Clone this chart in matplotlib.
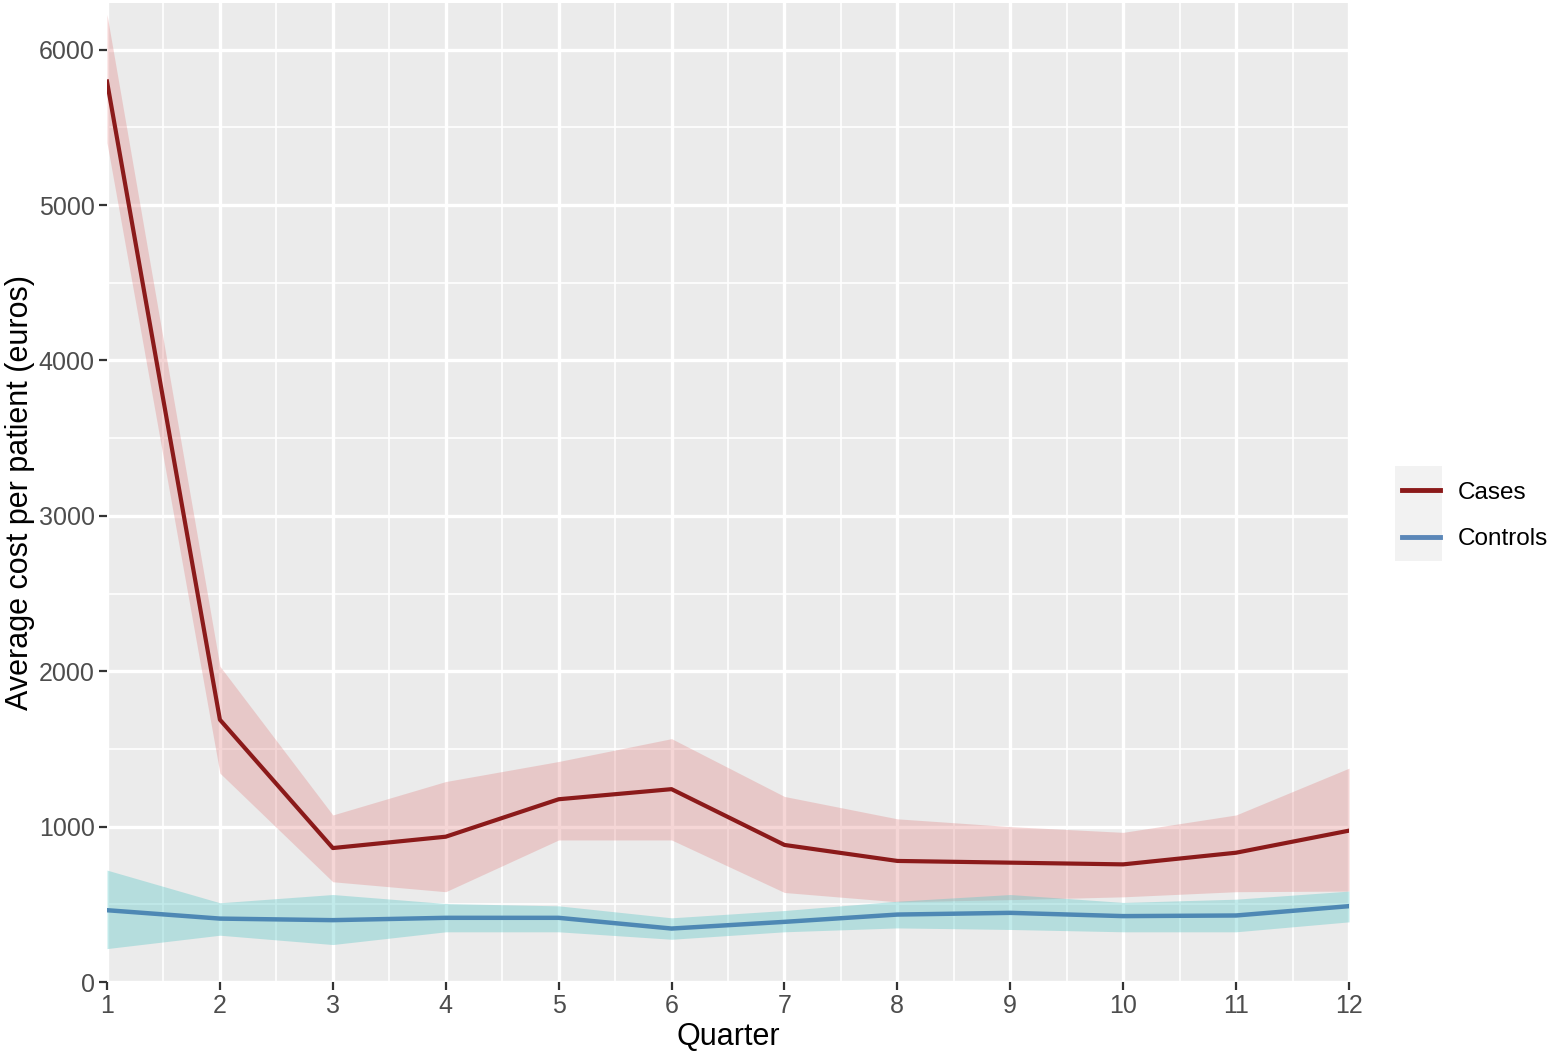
import numpy as np
import matplotlib.pyplot as plt
from matplotlib.lines import Line2D
from matplotlib.patches import Rectangle

plt.rcParams['font.family'] = ['Liberation Sans', 'DejaVu Sans']

quarters = list(range(1, 13))

cases_mean = [5795, 1688, 862, 935, 1176, 1241, 882, 779, 768, 757, 832, 974]
cases_low = [5400, 1344, 645, 581, 914, 914, 576, 516, 530, 548, 581, 585]
cases_high = [6226, 2032, 1075, 1290, 1419, 1566, 1194, 1050, 1000, 963, 1075, 1376]

controls_mean = [462, 408, 398, 413, 413, 344, 387, 434, 445, 424, 428, 488]
controls_low = [215, 301, 241, 323, 323, 275, 323, 348, 338, 323, 323, 387]
controls_high = [720, 510, 563, 505, 490, 413, 460, 520, 563, 512, 533, 585]

labels = ['Cases', 'Controls']

fig = plt.figure(figsize=(15.49, 10.54), dpi=100)
ax = fig.add_axes([107/1549, 1 - 982/1054, (1349-107)/1549, (982-3)/1054])

ax.set_facecolor('#EBEBEB')
for s in ax.spines.values():
    s.set_visible(False)

# grid
for x in np.arange(1.5, 12, 1):
    ax.axvline(x, color='white', lw=1.2, zorder=0)
for y in np.arange(500, 6300, 1000):
    ax.axhline(y, color='white', lw=1.2, zorder=0)
for x in quarters:
    ax.axvline(x, color='white', lw=2.4, zorder=0)
for y in range(0, 6001, 1000):
    ax.axhline(y, color='white', lw=2.4, zorder=0)

ax.fill_between(quarters, cases_low, cases_high, color='#E07A7A', alpha=0.3, lw=0, zorder=1)
ax.fill_between(quarters, controls_low, controls_high, color='#5EC8C8', alpha=0.38, lw=0, zorder=1)
ax.plot(quarters, cases_mean, color='#8B1A1A', lw=3, zorder=3)
ax.plot(quarters, controls_mean, color='#4E88B4', lw=3.2, zorder=3)

ax.set_xlim(1, 12)
ax.set_ylim(0, 6300)
ax.set_xticks(quarters)
ax.set_yticks(range(0, 6001, 1000))
ax.tick_params(axis='both', length=5.8, width=1.6, color='#333333',
               labelsize=18, labelcolor='#4D4D4D', pad=3)

ax.set_xlabel('Quarter', fontsize=22, color='black', labelpad=3)
ax.set_ylabel('Average cost per patient (euros)', fontsize=22, color='black', labelpad=3)

# legend
fig.patches.append(Rectangle((1395/1549, 1 - 561/1054), 47/1549, 95/1054,
                             transform=fig.transFigure, facecolor='#F2F2F2',
                             edgecolor='none'))
handles = [Line2D([], [], color='#8B1A1A', lw=3.5),
           Line2D([], [], color='#5B87B8', lw=3.5)]
fig.legend(handles, labels, loc='center left', bbox_to_anchor=(1390/1549, 1 - 516/1054),
           frameon=False, fontsize=17.5, handlelength=1.56, handletextpad=0.72,
           labelspacing=1.0, borderpad=0)

fig.savefig('out.png', dpi=100)
